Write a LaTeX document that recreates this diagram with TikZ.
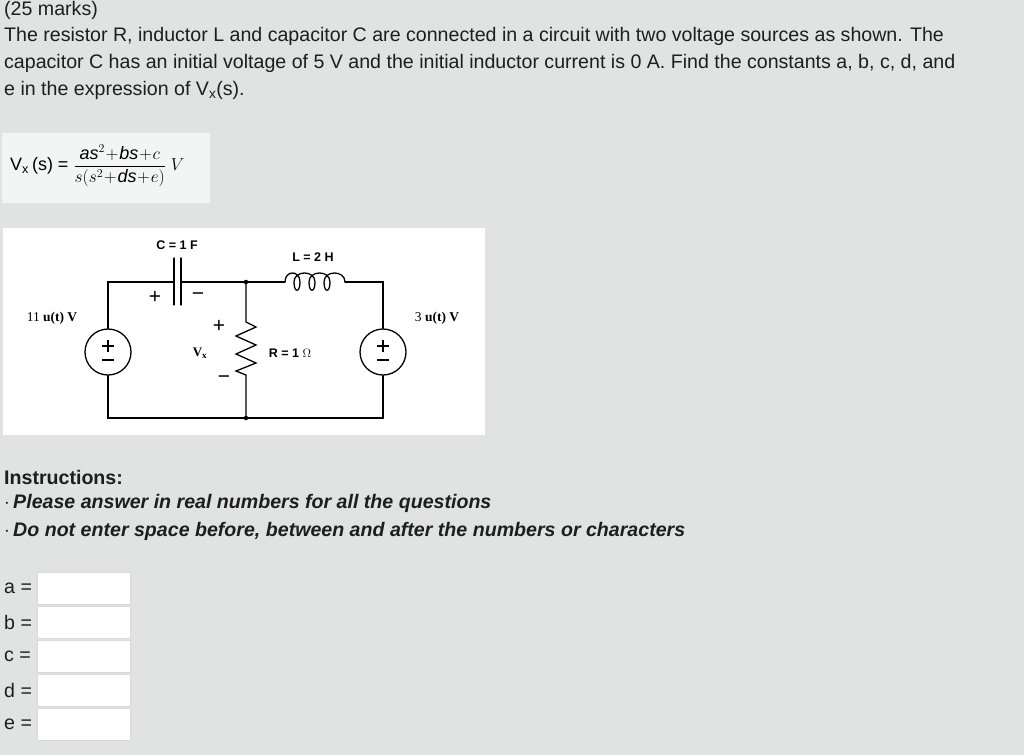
\documentclass[tikz,border=0pt]{standalone}
\usepackage{amsmath}
\usepackage{fontspec}
\setmainfont{Liberation Sans}
\newfontfamily\serifx{Liberation Serif}
\definecolor{bg}{HTML}{E1E2E2}
\definecolor{txt}{HTML}{1E1E1E}
\begin{document}
\begin{tikzpicture}[x=1pt,y=-1pt,
  body/.style={anchor=west,inner sep=0pt,font=\fontsize{19.6}{22}\selectfont,text=txt},
  wire/.style={line width=1.3pt,line cap=round},
  lbl/.style={inner sep=0pt,font=\fontsize{12.5}{14}\selectfont\bfseries},
  slbl/.style={inner sep=0pt,font=\serifx\fontsize{13.5}{14}\selectfont},
  sgn/.style={inner sep=0pt,font=\fontsize{21}{21}\selectfont},
  ansbox/.style={draw=gray!30,fill=white,minimum width=93pt,minimum height=32pt,inner sep=0pt},
  dotn/.style={circle,fill=black,inner sep=0pt,minimum size=4.5pt}]
\fill[bg] (0,0) rectangle (1024,755);
\useasboundingbox (0,0) rectangle (1024,755);
\node[body] (t0) at (4,10) {(25 marks)};
\node[body] (t1) at (4,36) {The resistor R, inductor L and capacitor C are connected in a circuit with two voltage sources as shown. The};
\node[body] (t2) at (4,63) {capacitor C has an initial voltage of 5 V and the initial inductor current is 0 A. Find the constants a, b, c, d, and};
\node[body] (t3) at (4,90) {e in the expression of V\textsubscript{x}(s).};
% equation
\fill[white!60!bg] (2,133) rectangle (210,203);
\node[anchor=west,inner sep=0pt] (eq) at (10,166) {\fontsize{18}{20}\selectfont V\textsubscript{x}\,(s) = $\displaystyle\frac{\mathit{as}^2\!+\!\mathit{bs}\!+\!c}{s(s^2\!+\!\mathit{ds}\!+\!e)}\;V$};
% circuit
\fill[white] (3,228) rectangle (485,435);
\coordinate (tl) at (108,282); \coordinate (tm) at (246,282); \coordinate (tr) at (383,282);
\coordinate (bl) at (108,418); \coordinate (bm) at (246,418); \coordinate (br) at (383,418);
\node[draw,circle,line width=1.3pt,minimum size=46pt,inner sep=0pt] (s1) at (108,352) {};
\node[draw,circle,line width=1.3pt,minimum size=46pt,inner sep=0pt] (s2) at (383,352) {};
\foreach \s in {s1,s2}{
  \draw[line width=1.2pt] (\s.center) ++(-6,-6) -- ++(12,0);
  \draw[line width=1.2pt] (\s.center) ++(0,-12) -- ++(0,12);
  \draw[line width=1.2pt] (\s.center) ++(-6,8) -- ++(12,0);}
\draw[wire] (s1.north) -- (tl) -- (174,282);
\draw[wire] (174,258) -- (174,305);
\draw[wire] (181,258) -- (181,305);
\draw[wire] (181,282) -- (tm) -- (285,282);
\draw[wire] (285,282) .. controls (285,270) and (300,270) .. (300,282)
  .. controls (300,293) and (294,293) .. (294,282)
  .. controls (294,270) and (315,270) .. (315,282)
  .. controls (315,293) and (309,293) .. (309,282)
  .. controls (309,270) and (330,270) .. (330,282)
  .. controls (330,293) and (324,293) .. (324,282)
  .. controls (324,270) and (345,270) .. (345,282);
\draw[wire] (345,282) -- (tr) -- (s2.north);
\draw[wire] (s2.south) -- (br) -- (bm) -- (bl) -- (s1.south);
\draw[wire] (tm) -- (246,322) -- (256,327) -- (236,336) -- (256,345) -- (236,354) -- (256,363) -- (236,371) -- (246,375) -- (bm);
\node[dotn] (d1) at (tm) {}; \node[dotn] (d2) at (bm) {};
\node[lbl] (cl) at (177,245) {C = 1 F};
\node[lbl] (ll) at (313,257) {L = 2 H};
\node[lbl] (rl) at (290,353) {R = 1 $\Omega$};
\node[inner sep=0pt,font=\fontsize{13}{14}\selectfont\bfseries\serifx] (vx) at (200,353) {V\textsubscript{x}};
\node[slbl] (v1) at (52,318) {11 \textbf{u(t) V}};
\node[slbl] (v2) at (437,318) {3 \textbf{u(t) V}};
\node[sgn] (cp) at (155,297) {+};
\node[sgn] (cm) at (198,297) {\textminus};
\node[sgn] (rp) at (219,326) {+};
\node[sgn] (rm) at (224,380) {\textminus};
% instructions
\node[body,font=\fontsize{19.6}{22}\selectfont\bfseries] (ins) at (4,477) {Instructions:};
\node[body,font=\fontsize{19.6}{22}\selectfont\bfseries\itshape] (i1) at (4,503) {$\cdot$\,Please answer in real numbers for all the questions};
\node[body,font=\fontsize{19.6}{22}\selectfont\bfseries\itshape] (i2) at (4,531) {$\cdot$\,Do not enter space before, between and after the numbers or characters};
\foreach \l/\y in {a/588,b/622,c/656,d/690,e/724}{
  \node[body] (lab\l) at (4,\y) {\l\ =};
  \node[ansbox] (box\l) at (83.5,\y) {};}
\end{tikzpicture}
\end{document}
